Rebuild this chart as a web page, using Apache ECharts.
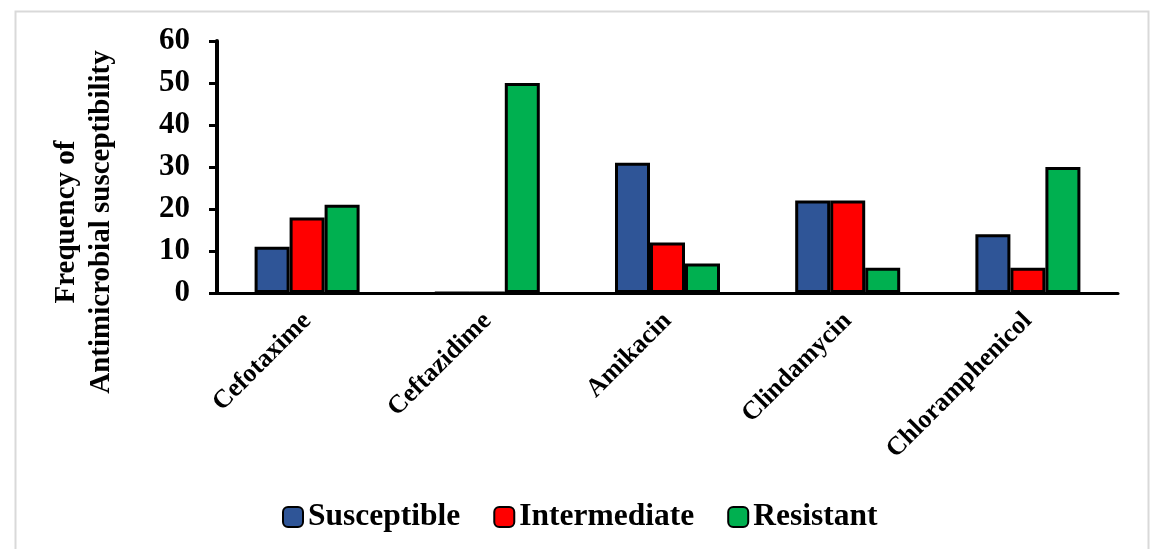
<!DOCTYPE html>
<html>
<head>
<meta charset="utf-8">
<style>
  html, body { margin: 0; padding: 0; background: #ffffff; }
  #chart { width: 1150px; height: 549px; }
</style>
<script src="https://cdn.jsdelivr.net/npm/echarts@6/dist/echarts.min.js"></script>
</head>
<body>
<div id="chart"></div>
<script>
// Antibiotics tested
const categories = ['Cefotaxime', 'Ceftazidime', 'Amikacin', 'Clindamycin', 'Chloramphenicol'];

// Number of isolates in each susceptibility class
const susceptible  = [11, 0, 31, 22, 14];
const intermediate = [18, 0, 12, 22, 6];
const resistant    = [21, 50, 7, 6, 30];

const seriesNames = ['Susceptible', 'Intermediate', 'Resistant'];
const yTicks = { min: 0, max: 60, interval: 10 };
const yTitle = 'Frequency of\nAntimicrobial susceptibility';

const FONT = "'Liberation Serif', 'Times New Roman', serif";
const colors = ['#2F5597', '#FF0000', '#00B050'];

const chart = echarts.init(document.getElementById('chart'));

function barSeries(name, data, color) {
  return {
    name: name,
    type: 'bar',
    data: data,
    barWidth: 35,
    barGap: '0%',
    itemStyle: { color: color, borderColor: '#000', borderWidth: 3 }
  };
}

chart.setOption({
  animation: false,
  backgroundColor: '#ffffff',
  graphic: [
    {
      // light frame around the chart area
      type: 'rect',
      left: 13, top: 9,
      shape: { width: 1133, height: 560 },
      style: { fill: 'none', stroke: '#d9d9d9', lineWidth: 2 },
      z: -1
    },
    {
      // vertical axis title, two lines
      type: 'text',
      x: 84, y: 222,
      rotation: Math.PI / 2,
      style: {
        text: yTitle,
        fontFamily: FONT, fontWeight: 'bold', fontSize: 29,
        lineHeight: 35,
        fill: '#000',
        align: 'center',
        verticalAlign: 'middle'
      }
    }
  ],
  grid: { left: 217, right: 32, top: 41, bottom: 256, containLabel: false },
  legend: {
    data: seriesNames,
    left: 277,
    top: 496,
    itemWidth: 20,
    itemHeight: 20,
    itemGap: 33,
    textStyle: { fontFamily: FONT, fontWeight: 'bold', fontSize: 31.5, color: '#000', padding: [0, 0, 0, 0] }
  },
  xAxis: {
    type: 'category',
    data: categories,
    axisLine: { lineStyle: { color: '#000', width: 3 } },
    axisTick: { alignWithLabel: true, length: 5, lineStyle: { color: '#000', width: 3 } },
    axisLabel: {
      rotate: 45,
      margin: 24,
      interval: 0,
      fontFamily: FONT,
      fontWeight: 'bold',
      fontSize: 26,
      color: '#000'
    }
  },
  yAxis: {
    type: 'value',
    min: yTicks.min,
    max: yTicks.max,
    interval: yTicks.interval,
    splitLine: { show: false },
    axisLine: { show: true, lineStyle: { color: '#000', width: 4 } },
    axisTick: { show: true, length: 8, lineStyle: { color: '#000', width: 3 } },
    axisLabel: { margin: 27, fontFamily: FONT, fontWeight: 'bold', fontSize: 31, color: '#000' }
  },
  series: [
    barSeries(seriesNames[0], susceptible, colors[0]),
    barSeries(seriesNames[1], intermediate, colors[1]),
    barSeries(seriesNames[2], resistant, colors[2])
  ]
});
</script>
</body>
</html>
